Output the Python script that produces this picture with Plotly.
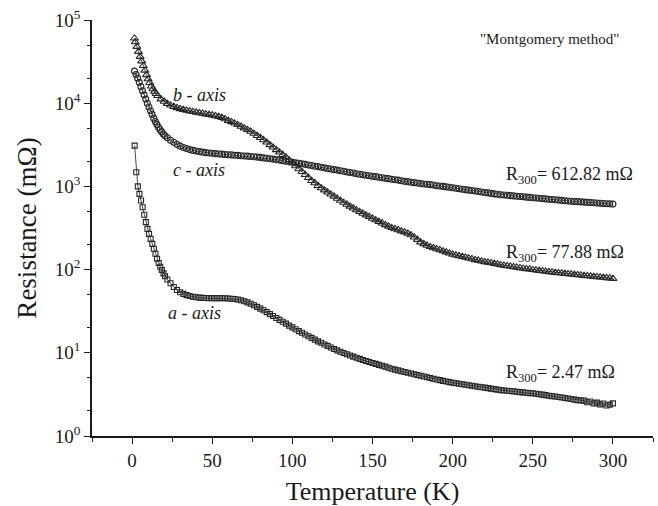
import plotly.graph_objects as go

# ---- measured resistance, mOhm, versus temperature, K ----
# a-axis (squares)
T_a = [1.6, 2.6, 3.6, 4.6, 5.6, 6.6, 7.6, 8.6, 9.6, 10.6, 11.6, 12.6, 13.6, 14.6, 15.6,
       16.6, 17.6, 18.6, 19.6, 20.6,
       22, 24, 26, 28, 30, 32, 34, 36, 38, 40, 42, 44, 46, 48, 50, 52, 54, 56, 58, 60,
       62, 64, 66, 68, 70, 72, 74, 76, 78, 80, 82, 84, 86, 88, 90, 92, 94, 96, 98, 100,
       102, 104, 106, 108, 110, 112, 114, 116, 118, 120, 122, 124, 126, 128, 130, 132, 134, 136, 138, 140,
       142, 144, 146, 148, 150, 152, 154, 156, 158, 160, 162, 164, 166, 168, 170, 172, 174, 176, 178, 180,
       182, 184, 186, 188, 190, 192, 194, 196, 198, 200, 202, 204, 206, 208, 210, 212, 214, 216, 218, 220,
       222, 224, 226, 228, 230, 232, 234, 236, 238, 240, 242, 244, 246, 248, 250, 252, 254, 256, 258, 260,
       262, 264, 266, 268, 270, 272, 274, 276, 278, 280, 282, 284, 286, 288, 290, 292, 294, 296, 298, 300]
R_a = [3090, 1480, 1000, 813, 676, 562, 457, 372, 309, 269, 234, 204, 178, 155, 135,
       120, 108, 98.9, 90.2, 83.2,
       75.9, 68.4, 61.7, 56.9, 53.5, 51.1, 49.3, 48.1, 47.2, 46.6, 46.0, 45.7, 45.5, 45.4, 45.4, 45.4, 45.4, 45.3, 45.2, 45.0,
       44.7, 44.3, 43.7, 42.9, 41.7, 40.4, 38.9, 37.3, 35.6, 34.0, 32.4, 30.8, 29.2, 27.7, 26.2, 24.9, 23.6, 22.4, 21.2, 20.2,
       19.2, 18.2, 17.4, 16.6, 15.8, 15.1, 14.4, 13.7, 13.2, 12.6, 12.1, 11.6, 11.1, 10.7, 10.3, 9.95, 9.62, 9.29, 8.99, 8.71,
       8.45, 8.20, 7.96, 7.74, 7.53, 7.35, 7.16, 6.98, 6.82, 6.61, 6.44, 6.28, 6.14, 6.00, 5.87, 5.75, 5.64, 5.52, 5.41, 5.30,
       5.19, 5.08, 4.98, 4.88, 4.78, 4.69, 4.60, 4.52, 4.44, 4.37, 4.31, 4.25, 4.19, 4.13, 4.07, 4.02, 3.96, 3.91, 3.86, 3.81,
       3.76, 3.71, 3.66, 3.61, 3.56, 3.53, 3.50, 3.47, 3.44, 3.40, 3.37, 3.34, 3.31, 3.28, 3.26, 3.22, 3.18, 3.14, 3.10, 3.05,
       3.01, 2.98, 2.94, 2.90, 2.86, 2.82, 2.78, 2.74, 2.70, 2.67, 2.66, 2.55, 2.60, 2.47, 2.52, 2.40, 2.46, 2.33, 2.38, 2.47]

# b-axis (triangles)
T_b = [1.5, 2, 3, 4, 5, 6, 7, 8, 9, 10, 11, 12, 13, 14, 15,
       16, 18, 20, 22, 24, 26, 28, 30, 32, 34, 36, 38, 40, 42, 44, 46, 48, 50, 52, 54, 56, 58, 60,
       62, 64, 66, 68, 70, 72, 74, 76, 78, 80, 82, 84, 86, 88, 90, 92, 94, 96, 98, 100,
       102, 104, 106, 108, 110, 112, 114, 116, 118, 120, 122, 124, 126, 128, 130, 132, 134, 136, 138, 140,
       142, 144, 146, 148, 150, 152, 154, 156, 158, 160, 162, 164, 166, 168, 170, 172, 174, 176, 178, 180,
       182, 184, 186, 188, 190, 192, 194, 196, 198, 200, 202, 204, 206, 208, 210, 212, 214, 216, 218, 220,
       222, 224, 226, 228, 230, 232, 234, 236, 238, 240, 242, 244, 246, 248, 250, 252, 254, 256, 258, 260,
       262, 264, 266, 268, 270, 272, 274, 276, 278, 280, 282, 284, 286, 288, 290, 292, 294, 296, 298, 300]
R_b = [60300, 54300, 47900, 41700, 36300, 32000, 28200, 24800, 21900, 19500, 17600, 16000, 14800, 13800, 13000,
       12300, 11200, 10500, 9890, 9440, 9080, 8790, 8550, 8360, 8180, 8040, 7890, 7760, 7640, 7520, 7400, 7280, 7160, 7030, 6890, 6700, 6460, 6170,
       5960, 5730, 5500, 5250, 5010, 4790, 4570, 4320, 4070, 3850, 3610, 3390, 3160, 2950, 2750, 2570, 2400, 2240, 2070, 1910,
       1760, 1620, 1500, 1380, 1270, 1170, 1100, 1020, 955, 902, 851, 804, 759, 716, 676, 640, 607, 575, 547, 520,
       495, 473, 452, 432, 412, 394, 377, 361, 345, 331, 318, 308, 299, 290, 282, 272, 260, 245, 229, 214,
       204, 195, 188, 182, 177, 172, 167, 162, 157, 152, 149, 146, 143, 140, 137, 134, 131, 129, 126, 124,
       122, 120, 118, 116, 114, 112, 110.5, 109, 107.5, 106, 104.5, 103, 102, 101, 99.5, 98.4, 97.3, 96.2, 95.1, 94.0,
       92.9, 92.0, 91.2, 90.4, 89.5, 88.7, 87.9, 87.1, 86.3, 85.5, 84.7, 83.9, 83.2, 82.4, 81.7, 80.9, 80.2, 79.4, 78.7, 77.88]

# c-axis (circles)
T_c = [1.5, 2.5, 3.5, 4.5, 5.5, 6.5, 7.5, 8.5, 9.5, 10.5, 11.5, 12.5, 13.5, 14.5, 15.5,
       16.5, 17.5, 18.5, 19.5, 20.5,
       22, 24, 26, 28, 30, 32, 34, 36, 38, 40, 42, 44, 46, 48, 50, 52, 54, 56, 58, 60,
       62, 64, 66, 68, 70, 72, 74, 76, 78, 80, 82, 84, 86, 88, 90, 92, 94, 96, 98, 100,
       102, 104, 106, 108, 110, 112, 114, 116, 118, 120, 122, 124, 126, 128, 130, 132, 134, 136, 138, 140,
       142, 144, 146, 148, 150, 152, 154, 156, 158, 160, 162, 164, 166, 168, 170, 172, 174, 176, 178, 180,
       182, 184, 186, 188, 190, 192, 194, 196, 198, 200, 202, 204, 206, 208, 210, 212, 214, 216, 218, 220,
       222, 224, 226, 228, 230, 232, 234, 236, 238, 240, 242, 244, 246, 248, 250, 252, 254, 256, 258, 260,
       262, 264, 266, 268, 270, 272, 274, 276, 278, 280, 282, 284, 286, 288, 290, 292, 294, 296, 298, 300]
R_c = [24300, 22100, 20000, 17800, 15800, 14100, 12600, 11200, 10000, 9020, 8130, 7330, 6610, 6030, 5560,
       5130, 4790, 4520, 4270, 4070,
       3850, 3590, 3390, 3200, 3050, 2940, 2850, 2770, 2710, 2660, 2620, 2580, 2550, 2520, 2500, 2480, 2450, 2440, 2420, 2400,
       2390, 2370, 2360, 2340, 2320, 2310, 2290, 2270, 2250, 2230, 2200, 2180, 2150, 2130, 2100, 2070, 2040, 2010, 1990, 1950,
       1920, 1900, 1870, 1840, 1810, 1780, 1750, 1730, 1700, 1670, 1640, 1620, 1590, 1570, 1540, 1520, 1490, 1470, 1450, 1420,
       1400, 1380, 1360, 1340, 1320, 1310, 1290, 1270, 1250, 1240, 1220, 1200, 1190, 1170, 1150, 1140, 1120, 1110, 1100, 1080,
       1070, 1060, 1050, 1040, 1020, 1010, 1000, 986, 975, 962, 951, 938, 925, 914, 902, 891, 879, 867, 857, 845,
       836, 824, 813, 804, 794, 787, 782, 774, 769, 762, 757, 750, 743, 738, 731, 726, 719, 713, 708, 701,
       697, 690, 684, 679, 673, 668, 664, 659, 656, 652, 647, 643, 640, 635, 631, 627, 624, 619, 617, 612.82]

x_ticks = [0, 50, 100, 150, 200, 250, 300]
y_ticks = [1, 10, 100, 1000, 10000, 100000]
y_ticktext = ["10<sup>0</sup>", "10<sup>1</sup>", "10<sup>2</sup>",
              "10<sup>3</sup>", "10<sup>4</sup>", "10<sup>5</sup>"]

SERIF = "Times New Roman, Liberation Serif, serif"
INK = "#1a1a1a"
MARK = "#262626"

fig = go.Figure()

series = [
    (T_a, R_a, "square-open", 5, "a - axis"),
    (T_b, R_b, "triangle-up-open", 7, "b - axis"),
    (T_c, R_c, "circle-open", 6, "c - axis"),
]
for t, r, sym, sz, nm in series:
    fig.add_trace(go.Scatter(
        x=t, y=r, name=nm, mode="lines+markers",
        line=dict(color=INK, width=0.8),
        marker=dict(symbol=sym, size=sz, color=MARK, line=dict(width=1.1, color=MARK)),
        showlegend=False,
    ))

axis_common = dict(showgrid=False, zeroline=False, showline=True,
                   linecolor=INK, linewidth=1.5, tickcolor=INK)

fig.update_layout(
    width=658, height=506,
    margin=dict(l=92, r=5, t=20, b=66),
    paper_bgcolor="white", plot_bgcolor="white",
    font=dict(family=SERIF, color=INK),
    xaxis=dict(
        **axis_common, range=[-25, 325], tickvals=x_ticks,
        ticks="outside", ticklen=6, tickwidth=1.3,
        minor=dict(dtick=25, tick0=0, ticks="outside", ticklen=4, tickwidth=1.2, tickcolor=INK),
        tickfont=dict(family=SERIF, size=19, color=INK),
        title=dict(text="Temperature (K)", font=dict(family=SERIF, size=26, color=INK), standoff=12),
    ),
    yaxis=dict(
        **axis_common, type="log", range=[0, 5], tickvals=y_ticks, ticktext=y_ticktext,
        ticks="outside", ticklen=6, tickwidth=1.3,
        minor=dict(ticks="outside", ticklen=3, tickwidth=1, tickcolor=INK),
        tickfont=dict(family=SERIF, size=19, color=INK),
        title=dict(text="Resistance (m\u03a9)", font=dict(family=SERIF, size=27, color=INK), standoff=10),
    ),
    xaxis2=dict(
        **axis_common, overlaying="x", side="top", anchor="y", matches="x",
        range=[-25, 325], dtick=25, tick0=0, ticks="inside", ticklen=5, tickwidth=1.2,
        showticklabels=False,
    ),
    yaxis2=dict(
        **axis_common, overlaying="y", side="right", anchor="x", matches="y",
        type="log", range=[0, 5], tickvals=y_ticks, ticks="inside", ticklen=5, tickwidth=1.2,
        minor=dict(ticks="inside", ticklen=3, tickwidth=1, tickcolor=INK),
        showticklabels=False,
    ),
)

def label(text, x, y, size=18, anchor="center"):
    fig.add_annotation(text=text, x=x, y=y, xref="paper", yref="paper",
                       showarrow=False, xanchor=anchor, yanchor="middle",
                       font=dict(family=SERIF, size=size, color=INK))

label("<i>b - axis</i>", 0.1925, 0.819)
label("<i>c - axis</i>", 0.19, 0.640)
label("<i>a - axis</i>", 0.1836, 0.295)
label("\"Montgomery method\"", 0.816, 0.955, size=15)
label("R<sub>300</sub>= 612.82 m\u03a9", 0.734, 0.626, anchor="left")
label("R<sub>300</sub>= 77.88 m\u03a9", 0.734, 0.438, anchor="left")
label("R<sub>300</sub>= 2.47 m\u03a9", 0.734, 0.150, anchor="left")

fig.write_html("out.html")
